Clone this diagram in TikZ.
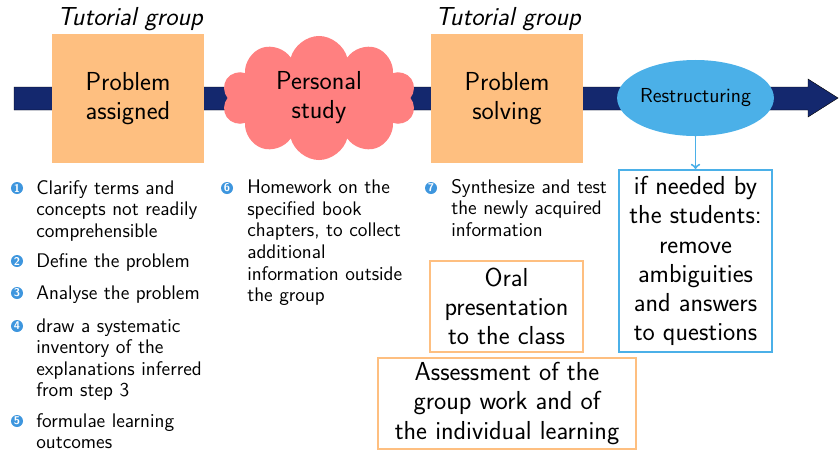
\documentclass[tikz,border=0pt]{standalone}
\usepackage{fontspec}
\usepackage{tikz}
\usetikzlibrary{shapes.geometric,shapes.symbols}
\renewcommand{\familydefault}{\sfdefault}

\definecolor{marino}{RGB}{20,40,110}
\definecolor{naranja}{RGB}{254,191,128}
\definecolor{salmon}{RGB}{255,128,128}
\definecolor{celeste}{RGB}{75,176,232}
\definecolor{bolaazul}{RGB}{62,150,222}

\begin{document}
\begin{tikzpicture}[x=0.025cm,y=-0.025cm,
    grande/.style={font=\fontsize{18.5}{20.7}\selectfont},
    texto/.style={font=\fontsize{14}{15.4}\selectfont, text width=5cm, align=left, inner sep=0pt, anchor=base west},
    bola/.style={circle, fill=bolaazul, text=white, inner sep=0pt, minimum size=0.3cm, font=\fontsize{8}{9}\selectfont\bfseries},
    caja/.style={rectangle, fill=naranja, minimum width=3.8cm, minimum height=3.225cm, align=center, grande},
    marco/.style={rectangle, draw=#1, line width=1.4pt, align=center, grande, inner sep=0pt}]
    \useasboundingbox (0,0) rectangle (839,450);

    % Flecha del proceso
    \draw[fill=marino, draw=black, line width=0.3pt]
        (14,87) -- (808,87) -- (808,79) -- (838,98) -- (808,117) -- (808,110) -- (14,110) -- cycle;

    % Etapas
    \node[caja] (asignado) at (128,98.5) {Problem\\assigned};
    \node[cloud, cloud puffs=10, aspect=1.6, fill=salmon, minimum width=4.85cm, minimum height=3.1cm, align=center, grande] (estudio) at (319,98) {Personal\\study};
    \node[caja] (solucion) at (507,98.5) {Problem\\solving};
    \node[ellipse, fill=celeste, minimum width=3.775cm, minimum height=1.9cm, inner sep=0pt, font=\fontsize{14.4}{16}\selectfont] (reestructura) at (695.5,98) {Restructuring};

    % Titulos
    \node[font=\fontsize{18.5}{20.7}\selectfont\itshape, anchor=base] (tutoria1) at (130,25) {Tutorial group};
    \node[font=\fontsize{18.5}{20.7}\selectfont\itshape, anchor=base] (tutoria2) at (508,25) {Tutorial group};

    % Cajas inferiores
    \node[marco=celeste, minimum width=3.825cm, minimum height=4.55cm] (ayuda) at (695.5,261)
        {if needed by\\the students:\\remove\\ambiguities\\and answers\\to questions};
    \node[marco=naranja, minimum width=3.825cm, minimum height=2.275cm] (oral) at (506.5,306.5)
        {Oral\\presentation\\to the class};
    \node[marco=naranja, minimum width=6.45cm, minimum height=2.275cm] (evaluacion) at (507,403.5)
        {Assessment of the\\group work and of\\the individual learning};

    % Conector
    \draw[->, celeste, line width=1.4pt] (reestructura) -- (ayuda);

    % Pasos numerados
    \node[bola] (b1) at (17,188) {1};
    \node[texto] (t1) at (36,194) {Clarify terms and\\concepts not readily\\comprehensible};
    \node[bola] (b2) at (17,261) {2};
    \node[texto] (t2) at (36,267) {Define the problem};
    \node[bola] (b3) at (17,293) {3};
    \node[texto] (t3) at (36,299) {Analyse the problem};
    \node[bola] (b4) at (17,326) {4};
    \node[texto] (t4) at (36,332) {draw a systematic\\inventory of the\\explanations inferred\\from step 3};
    \node[bola] (b5) at (17,421) {5};
    \node[texto] (t5) at (36,427) {formulae learning\\outcomes};
    \node[bola] (b6) at (227,188) {6};
    \node[texto] (t6) at (247,193.5) {Homework on the\\specified book\\chapters, to collect\\additional\\information outside\\the group};
    \node[bola] (b7) at (431,188) {7};
    \node[texto] (t7) at (451,193) {Synthesize and test\\the newly acquired\\information};
\end{tikzpicture}
\end{document}
